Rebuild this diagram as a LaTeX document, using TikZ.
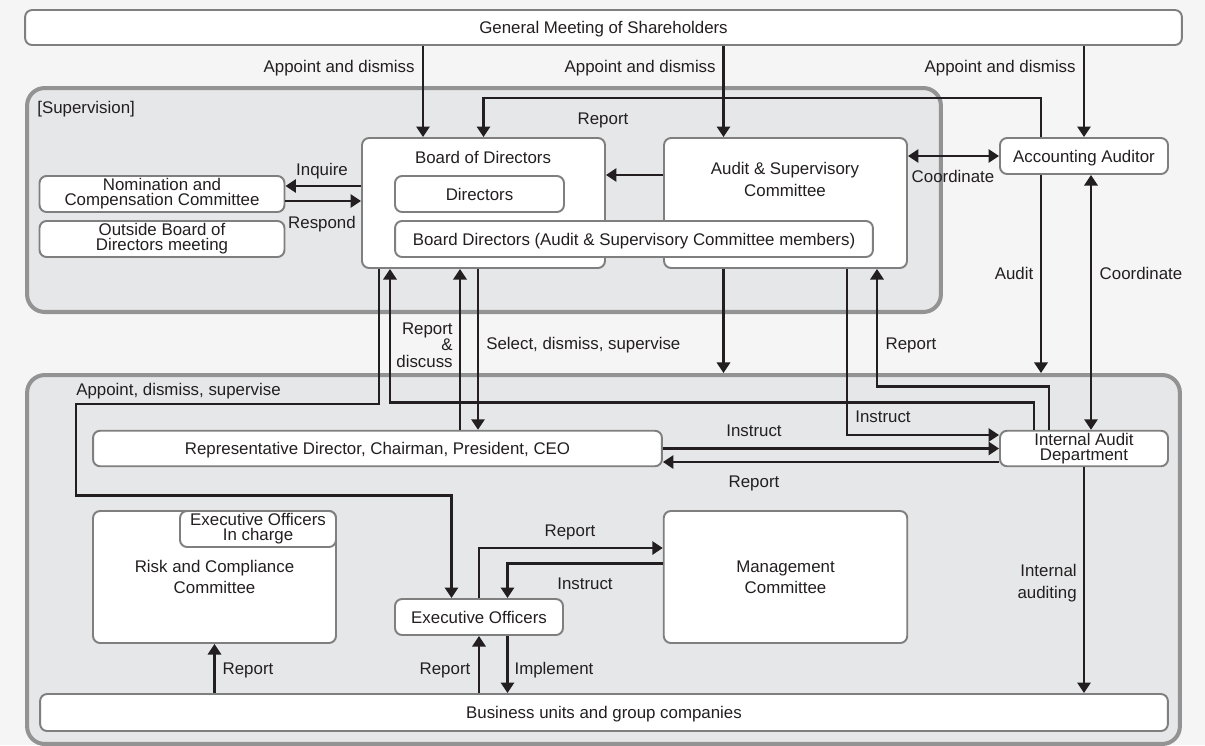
\documentclass[tikz,border=0pt]{standalone}
\usepackage{fontspec}
\setmainfont{Liberation Sans}
\usetikzlibrary{arrows.meta, positioning, calc}

\definecolor{ink}{HTML}{231F20}
\definecolor{edge}{HTML}{7F7F7F}
\definecolor{panel}{HTML}{E6E7E8}
\definecolor{paneledge}{HTML}{939393}
\definecolor{paper}{HTML}{F5F5F5}

\tikzset{
  box/.style={draw=edge, fill=white, line width=1.1pt, rounded corners=4pt, inner sep=0pt, align=center},
  one/.style={text height=6.9pt, text depth=0pt},
  area/.style={draw=paneledge, fill=panel, line width=2.3pt, rounded corners=10pt, inner sep=0pt},
  flow/.style={draw=ink, line width=1.5pt},
  tight/.style={font=\fontsize{9.6}{8.6}\selectfont},
  lbl/.style={inner sep=0pt, one},
  multi/.style={inner sep=0pt, yshift=-0.04cm},
}

\begin{document}
\begin{tikzpicture}[x=0.02cm, y=-0.02cm, >={Triangle[length=6pt,width=7.5pt]}, font=\fontsize{9.6}{12}\selectfont, text=ink]
\fill[paper] (0,0) rectangle (1205,745);
\useasboundingbox (0,0) rectangle (1205,745);

% panels
\node[area, minimum width=18.28cm, minimum height=4.48cm] (sup) at (484,200) {};
\node[area, minimum width=23.06cm, minimum height=7.38cm] (exe) at (603.5,559.5) {};

% boxes
\node[box, one, minimum width=23.14cm, minimum height=0.7cm] (gms) at (603.5,27.5) {General Meeting of Shareholders};
\node[box, minimum width=4.86cm, minimum height=2.6cm] (bod) at (483.5,203) {};
\node[box, minimum width=4.86cm, minimum height=2.6cm] (asc) at (785.5,203) {};
\node[box, one, minimum width=3.38cm, minimum height=0.72cm] (dirs) at (479.5,194) {Directors};
\node[box, one, minimum width=9.56cm, minimum height=0.72cm] (bdasc) at (634,239) {Board Directors (Audit \& Supervisory Committee members)};
\node[box, tight, minimum width=4.9cm, minimum height=0.72cm] (nom) at (162,194) {Nomination and\\Compensation Committee};
\node[box, tight, minimum width=4.9cm, minimum height=0.72cm] (obdm) at (162,239) {Outside Board of\\Directors meeting};
\node[box, one, minimum width=3.36cm, minimum height=0.72cm] (acc) at (1084,156) {Accounting Auditor};

\node[box, one, minimum width=11.38cm, minimum height=0.71cm] (rep) at (377.5,448.5) {Representative Director, Chairman, President, CEO};
\node[box, tight, minimum width=3.36cm, minimum height=0.71cm] (iad) at (1084,448.5) {Internal Audit\\Department};
\node[box, minimum width=4.86cm, minimum height=2.64cm] (risk) at (214.5,577) {Risk and Compliance\\Committee};
\node[box, tight, minimum width=3.12cm, minimum height=0.72cm] (eoic) at (258,529) {Executive Officers\\In charge};
\node[box, minimum width=4.87cm, minimum height=2.64cm] (mc) at (785.5,577) {Management\\Committee};
\node[box, one, minimum width=3.36cm, minimum height=0.72cm] (eo) at (479,617) {Executive Officers};
\node[box, one, minimum width=22.56cm, minimum height=0.74cm] (bu) at (604,712.5) {Business units and group companies};

\node[lbl] (bod-title) at (483,157) {Board of Directors};
\node[multi, align=center, font=\fontsize{9.6}{12.5}\selectfont] (asc-title) at (785,177) {Audit \& Supervisory\\Committee};
\node[lbl, anchor=west] (sup-title) at (37,107) {[Supervision]};

% shareholders
\draw[flow,<-] ([xshift=-1.21cm]bod.north) coordinate (gb) -- (gb |- gms.south);
\draw[flow,<-] ([xshift=-1.24cm]asc.north) coordinate (ga) -- (ga |- gms.south);
\draw[flow,<-] (acc.north) -- (acc.north |- gms.south);
\node[lbl, anchor=east] (l-gb) at (415,66) {Appoint and dismiss};
\node[lbl, anchor=east] (l-ga) at (716,66) {Appoint and dismiss};
\node[lbl, anchor=east] (l-gc) at (1076,66) {Appoint and dismiss};

% supervision
\draw[flow,<-] ([yshift=0.16cm]nom.east) coordinate (inq) -- (inq -| bod.west);
\draw[flow,->] ([yshift=-0.14cm]nom.east) coordinate (rsp) -- (rsp -| bod.west);
\node[lbl] (l-inq) at (322,169) {Inquire};
\node[lbl] (l-rsp) at (322,222) {Respond};
\draw[flow,->] ([yshift=0.56cm]asc.west) -- ([yshift=0.56cm]bod.east);
\draw[flow,<->] (asc.east |- acc.west) -- (acc.west);
\node[lbl] (l-coa) at (953,176) {Coordinate};
\draw[flow,->] ([xshift=-0.86cm]acc.north) -- ++(0,-39) -| (bod.north);
\node[lbl] (l-rpt) at (603,118) {Report};
\draw[flow,->] ([xshift=-0.86cm]acc.south) coordinate (au) -- (au |- exe.north);
\node[lbl] (l-aud) at (1014,273) {Audit};
\draw[flow,<->] ([xshift=0.14cm]acc.south) coordinate (co) -- (co |- iad.north);
\node[lbl] (l-cob) at (1141,273) {Coordinate};

% board to execution
\draw[flow,<-] ([xshift=-0.47cm]bod.south) coordinate (rd) -- (rd |- rep.north);
\draw[flow,->] ([xshift=-0.11cm]bod.south) coordinate (sd) -- (sd |- rep.north);
\node[multi, anchor=east, align=right, font=\fontsize{9.6}{9.5}\selectfont] (l-rd) at (453,343) {Report\\\&\\discuss};
\node[lbl, anchor=west] (l-sd) at (486,343) {Select, dismiss, supervise};
\draw[flow,->] ([xshift=-1.24cm]asc.south) coordinate (ad) -- (ad |- exe.north);
\draw[flow,->] ([xshift=-2.09cm]bod.south) -- ++(0,135) -- ++(-303,0) -- ++(0,91.5) -| ([xshift=-0.55cm]eo.north);
\node[lbl, anchor=west] (l-app) at (76,389) {Appoint, dismiss, supervise};
\draw[flow,->] ([xshift=-1cm]iad.north) -- ++(0,-27.5) -| ([xshift=-1.87cm]bod.south);
\draw[flow,->] ([xshift=-0.7cm]iad.north) -- ++(0,-43) -| ([xshift=1.83cm]asc.south);
\node[lbl] (l-rpa) at (911,343) {Report};
\draw[flow,->] ([xshift=1.23cm]asc.south) |- ([yshift=0.27cm]iad.west);
\node[lbl] (l-ina) at (883,416) {Instruct};

% execution
\draw[flow,->] (rep.east) -- (iad.west);
\draw[flow,->] ([yshift=-0.27cm]iad.west) -- ([yshift=-0.27cm]rep.east);
\node[lbl] (l-inr) at (754,430) {Instruct};
\draw[flow,->] (iad.south) -- (iad.south |- bu.north);
\node[lbl] at (754,481) (l-rpr) {Report};
\node[multi, anchor=east, align=right, font=\fontsize{9.6}{12.5}\selectfont] (l-ia) at (1077,581) {Internal\\auditing};
\draw[flow,->] (eo.north) |- ([yshift=0.58cm]mc.west);
\draw[flow,->] ([yshift=0.27cm]mc.west) -| ([xshift=0.57cm]eo.north);
\node[lbl] (l-rpm) at (570,530) {Report};
\node[lbl] (l-inm) at (585,583) {Instruct};
\draw[flow,<-] (eo.south) -- (eo.south |- bu.north);
\draw[flow,->] ([xshift=0.57cm]eo.south) coordinate (im) -- (im |- bu.north);
\draw[flow,<-] (risk.south) -- (risk.south |- bu.north);
\node[lbl] (l-rpe) at (445,668) {Report};
\node[lbl] (l-imp) at (554,668) {Implement};
\node[lbl] (l-rpk) at (248,668) {Report};
\end{tikzpicture}
\end{document}
